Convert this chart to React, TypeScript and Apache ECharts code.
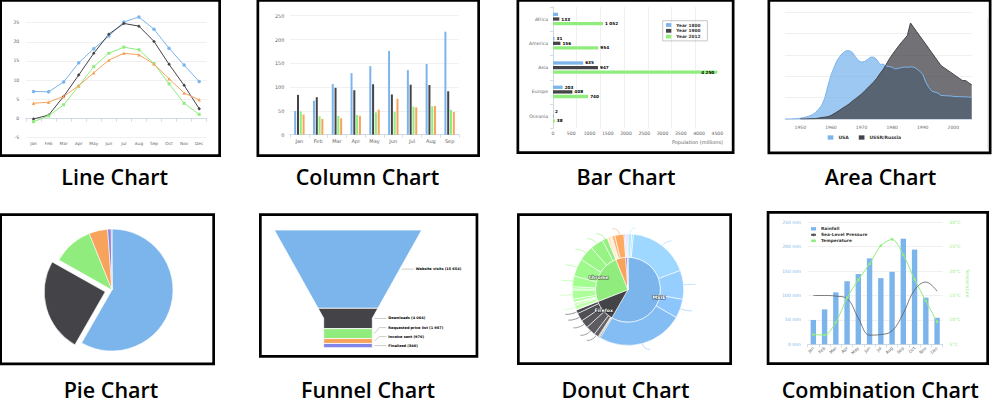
import React, { useEffect, useRef } from "react";
import * as echarts from "echarts";

// ---------- palette ----------
const HC = ["#7cb5ec", "#434348", "#90ed7d", "#f7a35c", "#8085e9", "#f15c80"];
const FONT = "DejaVu Sans";

// ---------- captions ----------
const CAPTIONS = ["Line Chart", "Column Chart", "Bar Chart", "Area Chart", "Pie Chart", "Funnel Chart", "Donut Chart", "Combination Chart"];

// ---------- 1. line chart ----------
const MONTHS = ["Jan", "Feb", "Mar", "Apr", "May", "Jun", "Jul", "Aug", "Sep", "Oct", "Nov", "Dec"];
const LINE_TOKYO = [7.0, 6.9, 9.5, 14.5, 18.2, 21.5, 25.2, 26.5, 23.3, 18.3, 13.9, 9.6];
const LINE_NEW_YORK = [-0.2, 0.8, 5.7, 11.3, 17.0, 22.0, 24.8, 24.1, 20.1, 14.1, 8.6, 2.5];
const LINE_BERLIN = [-0.9, 0.6, 3.5, 8.4, 13.5, 17.0, 18.6, 17.9, 14.3, 9.0, 3.9, 1.0];
const LINE_LONDON = [3.9, 4.2, 5.7, 8.5, 11.9, 15.2, 17.0, 16.6, 14.2, 10.3, 6.6, 4.8];

// ---------- 2. column chart ----------
const COL_MONTHS = ["Jan", "Feb", "Mar", "Apr", "May", "Jun", "Jul", "Aug", "Sep"];
const COL_TOKYO = [49.9, 71.5, 106.4, 129.2, 144.0, 176.0, 135.6, 148.5, 216.4];
const COL_NEW_YORK = [83.6, 78.8, 98.5, 93.4, 106.0, 84.5, 105.0, 104.3, 91.2];
const COL_LONDON = [48.9, 38.8, 39.3, 41.4, 47.0, 48.3, 59.0, 59.6, 52.4];
const COL_BERLIN = [42.4, 33.2, 34.5, 39.7, 52.6, 75.5, 57.4, 60.4, 47.6];

// ---------- 3. bar chart ----------
const BAR_REGIONS = ["Africa", "America", "Asia", "Europe", "Oceania"];
const BAR_1800 = [107, 31, 635, 203, 2];
const BAR_1900 = [133, 156, 947, 408, 6];
const BAR_2012 = [1052, 954, 4250, 740, 38];
const BAR_SERIES = ["Year 1800", "Year 1900", "Year 2012"];
const BAR_TICK_MAX = 4500; // printed tick labels 0 … 4500
const BAR_SCALE_MAX = 3460; // value at the plot's right edge, as the bars are drawn
const BAR_HIDDEN_LABELS: Record<string, string[]> = { "Year 1800": ["Africa"], "Year 1900": ["Oceania"] };
const BAR_INSIDE_LABELS: Record<string, string[]> = { "Year 2012": ["Asia"] };

// ---------- 4. area chart ----------
const AREA_START_YEAR = 1945;
const AREA_USA = [6, 11, 32, 110, 235, 369, 640, 1005, 1436, 2063, 3057, 4618, 6444, 9822, 15468, 20434, 24126, 27387, 29459, 31056, 31982, 32040, 31233, 29224, 27342, 26662, 26956, 27912, 28999, 28965, 27826, 25579, 25722, 24826, 24605, 24304, 23464, 23708, 24099, 24357, 24237, 24401, 24344, 23586, 22380, 21004, 17287, 14747, 13076, 12555, 12144, 11009, 10950, 10871, 10824, 10577, 10527, 10475, 10421, 10358, 10295, 10104];
const AREA_USSR = [null, null, null, null, null, 5, 25, 50, 120, 150, 200, 426, 660, 869, 1060, 1605, 2471, 3322, 4238, 5221, 6129, 7089, 8339, 9399, 10538, 11643, 13092, 14478, 15915, 17385, 19055, 21205, 23044, 25393, 27935, 30062, 32049, 33952, 35804, 37431, 39197, 45000, 43000, 41000, 39000, 37000, 35000, 33000, 31000, 29000, 27000, 25000, 24000, 23000, 22000, 21000, 20000, 19000, 18000, 18000, 17000, 16000];

// ---------- 5. pie chart ----------
const PIE_BROWSERS = ["Microsoft Internet Explorer", "Chrome", "Firefox", "Safari", "Opera", "Proprietary or Undetectable"];
const PIE_SHARES = [56.33, 24.03, 10.38, 4.77, 0.91, 0.2];
const PIE_SLICED = "Chrome";

// ---------- 6. funnel chart ----------
const FUNNEL_STAGES = ["Website visits", "Downloads", "Requested price list", "Invoice sent", "Finalized"];
const FUNNEL_VALUES = [15654, 4064, 1987, 976, 846];

// ---------- 7. donut chart ----------
const DONUT_BROWSERS = ["MSIE", "Firefox", "Chrome", "Safari", "Opera", "Proprietary or Undetectable"];
const DONUT_SHARES = [56.33, 10.38, 24.03, 4.77, 0.91, 0.2];
const DONUT_VERSION_NAMES = [
  ["MSIE 6.0", "MSIE 7.0", "MSIE 8.0", "MSIE 9.0", "MSIE 10.0", "MSIE 11.0"],
  ["Firefox v31", "Firefox v32", "Firefox v33", "Firefox v35", "Firefox v36", "Firefox v37", "Firefox v38", "Firefox v39"],
  ["Chrome v30.0", "Chrome v31.0", "Chrome v32.0", "Chrome v33.0", "Chrome v34.0", "Chrome v35.0", "Chrome v36.0", "Chrome v37.0", "Chrome v38.0", "Chrome v39.0", "Chrome v40.0", "Chrome v41.0", "Chrome v42.0", "Chrome v43.0"],
  ["Safari v5.0", "Safari v5.1", "Safari v6.1", "Safari v6.2", "Safari v7.0", "Safari v7.1", "Safari v8.0"],
  ["Opera v12.x", "Opera v27", "Opera v28", "Opera v29"],
  ["Proprietary or Undetectable"],
];
const DONUT_VERSION_SHARES = [
  [1.06, 0.5, 17.2, 8.11, 5.33, 24.13],
  [0.33, 0.15, 0.22, 1.27, 2.76, 2.32, 2.31, 1.02],
  [0.14, 1.24, 0.55, 0.19, 0.14, 0.85, 2.53, 0.38, 0.6, 2.96, 5, 4.32, 3.68, 1.45],
  [0.3, 0.42, 0.29, 0.17, 0.26, 0.77, 2.56],
  [0.34, 0.17, 0.24, 0.16],
  [0.2],
];

// ---------- 8. combination chart ----------
const COMBO_RAINFALL = [49.9, 71.5, 106.4, 129.2, 144.0, 176.0, 135.6, 148.5, 216.4, 194.1, 95.6, 54.4];
const COMBO_PRESSURE = [1016, 1016, 1015.9, 1015.5, 1012.3, 1009.5, 1009.6, 1010.2, 1013.1, 1016.9, 1018.2, 1016.7];
const COMBO_TEMPERATURE = [7.0, 6.9, 9.5, 14.5, 18.2, 21.5, 25.2, 26.5, 23.3, 18.3, 13.9, 9.6];

// ---------- layout (pixels) ----------
const FRAMES = [
  [-0.7, -1, 221, 157], [256.5, -1, 480, 157], [516.5, -1, 734.5, 154], [767.5, -1, 991.5, 154.3],
  [-0.7, 213.3, 215, 365.3], [259, 213.3, 478.3, 357.7], [517, 213.3, 732, 365], [766.7, 211, 989, 365],
];
const CAPTION_X = [114.7, 367.5, 626, 880.5, 111, 368, 625.5, 880.3];
const CAPTION_Y = [176.5, 389.8];
const FRAME_LW = 2.7;
const FUNNEL_NECK_W = 0.33;
const FUNNEL_NECK_H = 0.25;
const FUNNEL_LABEL_GAP = 9;

function brighten(hex: string, a: number) {
  const n = parseInt(hex.slice(1), 16);
  const add = Math.floor(a * 255);
  const c = (v: number) => Math.max(0, Math.min(255, v + add));
  return `rgb(${c((n >> 16) & 255)},${c((n >> 8) & 255)},${c(n & 255)})`;
}

function fmtThousands(v: number) {
  return v >= 1000 ? Math.floor(v / 1000) + " " + String(v % 1000).padStart(3, "0") : String(v);
}

const axisLabel = (size: number, extra: any = {}) => ({ color: "#666", fontSize: size, fontFamily: FONT, ...extra });
const gridLine = { show: true, lineStyle: { color: "#e6e6e6", width: 0.6 } };
const hcAxisLine = { show: true, lineStyle: { color: "#C0D0E0", width: 0.7 } };

function buildOption() {
  // funnel rows
  const fTotal = FUNNEL_VALUES.reduce((a, b) => a + b, 0);
  let acc = 0;
  const funnelRows = FUNNEL_VALUES.map((v, i) => {
    const s = acc / fTotal;
    acc += v;
    return [i, s, acc / fTotal, v];
  });
  const hw = (f: number) =>
    f <= 1 - FUNNEL_NECK_H ? 1 - ((1 - FUNNEL_NECK_W) * f) / (1 - FUNNEL_NECK_H) : FUNNEL_NECK_W;

  const funnelRender = (params: any, api: any) => {
    const i = api.value(0);
    const s = api.value(1);
    const e = api.value(2);
    const fs = [s];
    if (s < 1 - FUNNEL_NECK_H && e > 1 - FUNNEL_NECK_H) fs.push(1 - FUNNEL_NECK_H);
    fs.push(e);
    const pts: number[][] = [];
    fs.forEach((f) => pts.push(api.coord([-hw(f), f])));
    fs.slice().reverse().forEach((f) => pts.push(api.coord([hw(f), f])));
    const mids = funnelRows.map((r) => api.coord([0, (r[1] + r[2]) / 2])[1]);
    const ly = mids.slice();
    for (let k = ly.length - 2; k >= 0; k--) ly[k] = Math.min(ly[k], ly[k + 1] - FUNNEL_LABEL_GAP);
    const mid = (s + e) / 2;
    const edge = api.coord([hw(mid), mid]);
    const lx = edge[0] + 16;
    const text = `${FUNNEL_STAGES[i]} (${fmtThousands(FUNNEL_VALUES[i])})`;
    return {
      type: "group",
      children: [
        { type: "polygon", shape: { points: pts }, style: { fill: HC[i], stroke: "#fff", lineWidth: 0.8 } },
        {
          type: "polyline",
          shape: { points: [[edge[0] + 2, mids[i]], [edge[0] + 7, ly[i]], [lx - 2, ly[i]]] },
          style: { stroke: "#999", lineWidth: 0.5, fill: null },
        },
        {
          type: "text",
          style: {
            text, x: lx, y: ly[i], fill: "#000", fontSize: 3.5, fontWeight: "bold", fontFamily: FONT,
            align: "left", verticalAlign: "middle", textAlign: "left", textVerticalAlign: "middle",
          },
        },
      ],
    };
  };

  const barSeries = [BAR_1800, BAR_1900, BAR_2012].map((vals, si) => {
    const name = BAR_SERIES[si];
    return {
      name, type: "bar", xAxisIndex: 2, yAxisIndex: 2, barWidth: 3.3, barGap: "40%", clip: true,
      itemStyle: { color: HC[si] },
      label: {
        show: true, position: "right", distance: 2, fontSize: 4.2, fontWeight: "bold", fontFamily: FONT, color: "#000",
        formatter: (p: any) => fmtThousands(p.value),
      },
      data: vals.map((v, i) => {
        const region = BAR_REGIONS[i];
        const hidden = (BAR_HIDDEN_LABELS[name] || []).includes(region);
        const inside = (BAR_INSIDE_LABELS[name] || []).includes(region);
        const item: any = { value: v };
        if (hidden) item.label = { show: false };
        else if (inside) item.label = { position: "insideRight", distance: 3 };
        return item;
      }),
    };
  });

  const areaYears = AREA_USA.map((_, i) => String(AREA_START_YEAR + i));

  const donutOuter: any[] = [];
  DONUT_VERSION_SHARES.forEach((arr, bi) => {
    arr.forEach((v, j) => {
      const show = v > 1;
      donutOuter.push({
        name: DONUT_VERSION_NAMES[bi][j],
        value: v,
        itemStyle: { color: brighten(HC[bi], 0.2 - j / arr.length / 5) },
        label: { show },
        labelLine: { show },
      });
    });
  });

  const graphics: any[] = [];
  FRAMES.forEach(([x0, y0, x1, y1]) => {
    graphics.push({
      type: "rect", silent: true, z: 100,
      shape: { x: x0 + FRAME_LW / 2, y: y0 + FRAME_LW / 2, width: x1 - x0 - FRAME_LW, height: y1 - y0 - FRAME_LW },
      style: { fill: "none", stroke: "#000", lineWidth: FRAME_LW },
    });
  });
  graphics.push({
    type: "line", silent: true, shape: { x1: 987.7, y1: 18, x2: 987.7, y2: 150 },
    style: { stroke: "#dcdcdc", lineWidth: 0.7 },
  });
  CAPTIONS.forEach((t, i) => {
    graphics.push({
      type: "text", silent: true,
      style: {
        text: t, x: CAPTION_X[i], y: CAPTION_Y[i < 4 ? 0 : 1], fill: "#000",
        fontSize: 21.5, fontWeight: 600, fontFamily: "Open Sans",
        textAlign: "center", textVerticalAlign: "middle", align: "center", verticalAlign: "middle",
      },
    });
  });

  return {
    animation: false,
    textStyle: { fontFamily: FONT },
    graphic: { elements: graphics },
    grid: [
      { left: 26, top: 3.6, width: 180.7, height: 133.7, outerBoundsMode: "none" },
      { left: 290, top: 15.7, width: 169, height: 119, outerBoundsMode: "none" },
      { left: 553, top: 6.85, width: 164.3, height: 121.5, outerBoundsMode: "none" },
      { left: 785, top: 12.3, width: 186.7, height: 106.7, outerBoundsMode: "none" },
      { left: 274.3, top: 230, width: 147.4, height: 117.7, outerBoundsMode: "none" },
      { left: 807.7, top: 222.3, width: 135, height: 122, outerBoundsMode: "none" },
    ],
    xAxis: [
      {
        gridIndex: 0, type: "category", data: MONTHS, axisLine: hcAxisLine,
        axisTick: { show: true, length: 3.5, lineStyle: { color: "#C0D0E0", width: 0.7 } },
        axisLabel: axisLabel(4.3, { margin: 4.5 }), splitLine: { show: false },
      },
      {
        gridIndex: 1, type: "category", data: COL_MONTHS, axisLine: hcAxisLine,
        axisTick: { show: true, length: 3, lineStyle: { color: "#C0D0E0", width: 0.7 } },
        axisLabel: axisLabel(5, { margin: 3.8 }), splitLine: { show: false },
      },
      {
        // value scale the bars and grid lines are drawn on
        gridIndex: 2, type: "value", min: 0, max: BAR_SCALE_MAX, interval: 500,
        axisLine: { show: false }, axisTick: { show: false }, axisLabel: { show: false },
        splitLine: { ...gridLine, showMaxLine: false },
      },
      {
        gridIndex: 3, type: "category", data: areaYears, boundaryGap: false,
        axisLine: hcAxisLine, axisTick: { show: false },
        axisLabel: axisLabel(4.5, { margin: 5.5, interval: (_i: number, v: string) => Number(v) % 10 === 0 }),
        splitLine: { show: false },
      },
      { gridIndex: 4, type: "value", min: -1, max: 1, show: false },
      {
        gridIndex: 5, type: "category", data: MONTHS, axisLine: hcAxisLine,
        axisTick: { show: true, length: 3, lineStyle: { color: "#C0D0E0", width: 0.7 } },
        axisLabel: axisLabel(4.3, { margin: 3, rotate: 45 }), splitLine: { show: false },
      },
      {
        // printed tick labels of the bar chart
        gridIndex: 2, type: "value", position: "bottom", min: 0, max: BAR_TICK_MAX, interval: 500,
        axisLine: { show: false }, axisTick: { show: false }, splitLine: { show: false },
        axisLabel: axisLabel(4.6, { margin: 3, formatter: (v: number) => String(v) }),
        name: "Population (millions)", nameLocation: "end", nameGap: 5.7,
        nameTextStyle: { color: "#666", fontSize: 5, fontFamily: FONT, align: "right", verticalAlign: "top", padding: [10.8, 0, 0, 0] },
      },
    ],
    yAxis: [
      {
        gridIndex: 0, type: "value", min: -5, max: 30, interval: 5,
        axisLine: { show: false }, axisTick: { show: false },
        axisLabel: axisLabel(4.6, { margin: 6.7, showMaxLabel: false }),
        splitLine: { ...gridLine, showMaxLine: false },
      },
      {
        gridIndex: 1, type: "value", min: 0, max: 250, interval: 50,
        axisLine: { show: false }, axisTick: { show: false },
        axisLabel: axisLabel(4.9, { margin: 5.7 }), splitLine: gridLine,
      },
      {
        gridIndex: 2, type: "category", data: BAR_REGIONS, inverse: true,
        axisLine: hcAxisLine, axisTick: { show: true, length: 3, lineStyle: { color: "#C0D0E0", width: 0.7 } },
        axisLabel: axisLabel(4.6, { margin: 5 }), splitLine: { show: false },
      },
      {
        gridIndex: 3, type: "value", min: 0, max: 50000, interval: 10000,
        axisLine: { show: false }, axisTick: { show: false }, axisLabel: { show: false }, splitLine: gridLine,
      },
      { gridIndex: 4, type: "value", min: 0, max: 1, inverse: true, show: false },
      {
        gridIndex: 5, type: "value", min: 0, max: 250, interval: 50,
        axisLine: { show: false }, axisTick: { show: false },
        axisLabel: axisLabel(4.5, { margin: 6.7, color: HC[0], formatter: "{value} mm" }), splitLine: gridLine,
      },
      {
        gridIndex: 5, type: "value", position: "right", min: 5, max: 30, interval: 5,
        axisLine: { show: false }, axisTick: { show: false },
        axisLabel: axisLabel(4.5, { margin: 6.6, color: HC[2], formatter: "{value}°C" }), splitLine: { show: false },
        name: "Temperature", nameLocation: "middle", nameRotate: -90, nameGap: 22,
        nameTextStyle: { color: HC[2], fontSize: 4.5, fontFamily: FONT },
      },
      { gridIndex: 5, type: "value", min: 1008, max: 1028, show: false },
    ],
    legend: [
      {
        data: BAR_SERIES, left: 662.7, top: 20.7, orient: "vertical", icon: "rect",
        borderColor: "#909090", borderWidth: 0.5, padding: [2.3, 7, 2.3, 3.3],
        itemWidth: 5.3, itemHeight: 3.8, itemGap: 1.8, itemTextGap: 3, selectedMode: false,
        textStyle: { fontSize: 4.3, fontWeight: "bold", color: "#333", fontFamily: FONT },
      },
      {
        data: ["USA", "USSR/Russia"], left: 827.7, top: 135, icon: "rect",
        itemWidth: 5.7, itemHeight: 4.3, itemGap: 10, itemTextGap: 2, padding: 0, selectedMode: false,
        textStyle: { fontSize: 4.5, fontWeight: "bold", color: "#333", fontFamily: FONT },
      },
      {
        data: [{ name: "Rainfall", icon: "rect" }, { name: "Sea-Level Pressure" }, { name: "Temperature" }],
        left: 810, top: 226.8, orient: "vertical", padding: 0,
        itemWidth: 5, itemHeight: 3.3, itemGap: 2, itemTextGap: 2.7, selectedMode: false,
        textStyle: { fontSize: 4.3, fontWeight: "bold", color: "#333", fontFamily: FONT },
      },
    ],
    series: [
      // 1. line chart
      ...[LINE_TOKYO, LINE_NEW_YORK, LINE_BERLIN, LINE_LONDON].map((d, i) => ({
        name: ["Tokyo", "New York", "Berlin", "London"][i], type: "line", xAxisIndex: 0, yAxisIndex: 0,
        data: d, symbol: ["circle", "diamond", "rect", "triangle"][i], symbolSize: i === 2 ? 3 : 3.5,
        color: HC[i], lineStyle: { width: 1, color: HC[i] }, itemStyle: { color: HC[i] },
      })),
      // 2. column chart
      ...[COL_TOKYO, COL_NEW_YORK, COL_LONDON, COL_BERLIN].map((d, i) => ({
        name: ["Tokyo rainfall", "New York rainfall", "London rainfall", "Berlin rainfall"][i], type: "bar",
        xAxisIndex: 1, yAxisIndex: 1, data: d, barWidth: 2, barGap: "40%", itemStyle: { color: HC[i] },
      })),
      // 3. bar chart
      ...barSeries,
      // 4. area chart
      {
        name: "USA", type: "line", xAxisIndex: 3, yAxisIndex: 3, data: AREA_USA, showSymbol: false, symbol: "none",
        color: HC[0], lineStyle: { width: 1, color: HC[0] }, areaStyle: { color: HC[0], opacity: 0.75 },
      },
      {
        name: "USSR/Russia", type: "line", xAxisIndex: 3, yAxisIndex: 3, data: AREA_USSR, showSymbol: false, symbol: "none",
        color: HC[1], lineStyle: { width: 1, color: HC[1] }, areaStyle: { color: HC[1], opacity: 0.75 },
      },
      // 5. pie chart
      {
        name: "Browser share", type: "pie", center: [112, 290], radius: 61, startAngle: 90,
        selectedMode: "single", selectedOffset: 7, label: { show: false }, labelLine: { show: false },
        itemStyle: { borderColor: "#fff", borderWidth: 0.6 },
        select: { itemStyle: { borderColor: "#fff", borderWidth: 0.6 } },
        data: PIE_BROWSERS.map((n, i) => ({
          name: n, value: PIE_SHARES[i], selected: n === PIE_SLICED, itemStyle: { color: HC[i] },
        })),
      },
      // 6. funnel chart
      {
        name: "Sales funnel", type: "custom", xAxisIndex: 4, yAxisIndex: 4, renderItem: funnelRender,
        encode: { x: 0, y: 1 }, data: funnelRows, clip: false,
      },
      // 7. donut chart
      {
        name: "Browsers", type: "pie", center: [628, 289.7], radius: [0, 32.5], startAngle: 90,
        label: { show: false }, labelLine: { show: false }, itemStyle: { borderColor: "#fff", borderWidth: 0.6 },
        data: DONUT_BROWSERS.map((n, i) => ({ name: n, value: DONUT_SHARES[i], itemStyle: { color: HC[i] } })),
      },
      {
        name: "Versions", type: "pie", center: [628, 289.7], radius: [32.5, 55.7], startAngle: 90,
        avoidLabelOverlap: true, itemStyle: { borderColor: "#fff", borderWidth: 0.6 },
        label: { position: "outside", formatter: " ", fontSize: 3, distanceToLabelLine: 0 },
        labelLine: { length: 6, length2: 6, smooth: 0.5, lineStyle: { width: 0.6 } },
        data: donutOuter,
      },
      {
        name: "Browser labels", type: "pie", center: [628, 289.7], radius: [0, 58], startAngle: 90, silent: true, z: 5,
        itemStyle: { color: "rgba(0,0,0,0)", borderWidth: 0 },
        label: {
          position: "inside", formatter: "{b}", color: "#fff", fontSize: 4.7, fontWeight: "bold", fontFamily: FONT,
          textBorderColor: "rgba(0,0,0,0.55)", textBorderWidth: 1.2,
        },
        labelLine: { show: false },
        data: DONUT_BROWSERS.map((n, i) => ({ name: n, value: DONUT_SHARES[i], label: { show: DONUT_SHARES[i] > 5 } })),
      },
      // 8. combination chart
      {
        name: "Rainfall", type: "bar", xAxisIndex: 5, yAxisIndex: 5, data: COMBO_RAINFALL, barWidth: 5.4,
        itemStyle: { color: HC[0] },
      },
      {
        name: "Sea-Level Pressure", type: "line", xAxisIndex: 5, yAxisIndex: 7, data: COMBO_PRESSURE, smooth: 0.4,
        symbol: "none", color: "#5a5a5e", lineStyle: { width: 0.8, color: "#5a5a5e" },
      },
      {
        name: "Temperature", type: "line", xAxisIndex: 5, yAxisIndex: 6, data: COMBO_TEMPERATURE, smooth: 0.3,
        symbol: "rect", symbolSize: 2.4, color: HC[2], lineStyle: { width: 1, color: HC[2] }, itemStyle: { color: HC[2] },
      },
    ],
  };
}

export default function App() {
  const ref = useRef<HTMLDivElement>(null);
  useEffect(() => {
    document.body.style.margin = "0";
    const chart = echarts.init(ref.current as HTMLDivElement, null, { renderer: "svg" });
    chart.setOption(buildOption() as any);
    return () => chart.dispose();
  }, []);
  return <div ref={ref} style={{ width: 992, height: 413 }} />;
}
